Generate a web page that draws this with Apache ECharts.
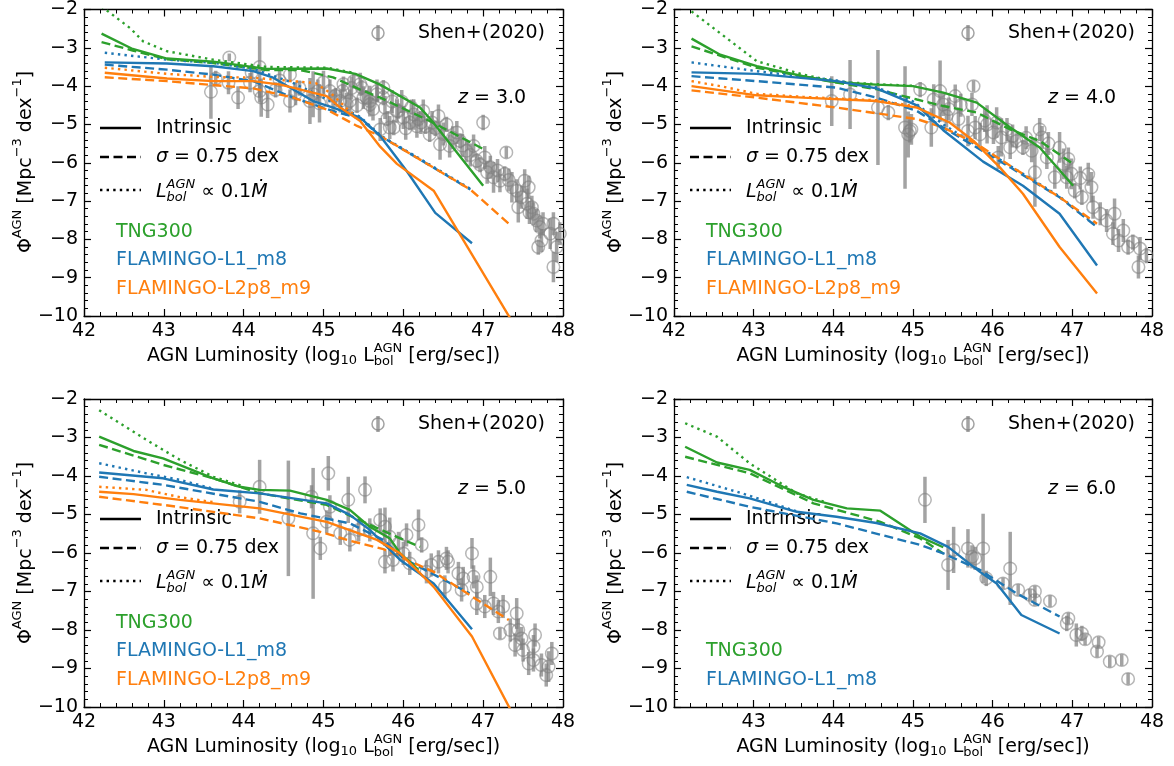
<!DOCTYPE html>
<html>
<head>
<meta charset="utf-8">
<script src="https://cdn.jsdelivr.net/npm/echarts@6/dist/echarts.min.js"></script>
<style>
  html, body { margin: 0; padding: 0; background: #fff; }
  #main { width: 1174px; height: 766px; }
</style>
</head>
<body>
<div id="main"></div>
<script>
// ---- model curves, [log L, log Phi] ----
// z = 3
const tng3_int = [[42.22,-2.63],[42.61,-3.03],[43.04,-3.28],[43.62,-3.36],[44.29,-3.55],[45.04,-3.54],[45.40,-3.68],[45.71,-3.96],[46.21,-4.56],[46.36,-4.91],[47.0,-6.6]];
const tng3_sig = [[42.22,-2.85],[42.61,-3.07],[43.04,-3.30],[43.62,-3.40],[44.29,-3.58],[44.71,-3.58],[45.12,-3.77],[45.46,-4.09],[45.71,-4.30],[46.33,-4.91],[47.0,-5.64]];
const tng3_dot = [[42.22,-1.92],[42.58,-2.49],[42.74,-2.83],[43.04,-3.09],[43.62,-3.31],[44.29,-3.50],[45.04,-3.52],[45.40,-3.66]];
const fl1_3_int = [[42.26,-3.38],[43.04,-3.41],[43.62,-3.48],[44.12,-3.61],[44.37,-3.78],[44.87,-4.39],[45.12,-4.56],[45.46,-4.82],[45.71,-5.30],[46.04,-6.21],[46.40,-7.31],[46.86,-8.10]];
const fl1_3_sig = [[42.26,-3.44],[43.04,-3.57],[43.62,-3.70],[44.12,-3.87],[44.62,-4.30],[45.12,-4.65],[45.46,-4.85],[45.71,-5.30],[46.84,-6.70]];
const fl1_3_dot = [[42.26,-3.13],[43.04,-3.31],[43.62,-3.39],[44.12,-3.55],[44.60,-3.90],[45.00,-4.30],[45.46,-4.80],[45.71,-5.28],[46.84,-6.68]];
const fl2_3_int = [[42.26,-3.65],[43.04,-3.80],[43.62,-3.87],[44.12,-3.87],[44.46,-3.96],[44.79,-4.13],[45.04,-4.26],[45.21,-4.56],[45.46,-4.91],[45.71,-5.58],[45.92,-6.03],[46.38,-6.73],[47.35,-10.1]];
const fl2_3_sig = [[42.26,-3.77],[43.04,-3.87],[44.12,-4.06],[44.62,-4.30],[45.04,-4.61],[45.42,-5.04],[45.71,-5.30],[46.84,-6.70],[47.32,-7.59]];
const fl2_3_dot = [[42.26,-3.52],[43.04,-3.68],[43.62,-3.76],[44.12,-3.78],[44.90,-3.92],[45.10,-4.20],[45.30,-4.60],[45.46,-4.88]];
// z = 4
const tng4_int = [[42.22,-2.76],[42.58,-3.18],[43.04,-3.48],[43.62,-3.74],[44.04,-3.90],[44.54,-3.96],[45.0,-4.0],[45.38,-4.17],[45.80,-4.43],[46.22,-5.08],[46.59,-5.60],[47.01,-6.6]];
const tng4_sig = [[42.22,-2.96],[43.04,-3.52],[44.04,-3.91],[44.54,-4.08],[45.05,-4.35],[45.38,-4.52],[45.80,-4.69],[46.22,-5.13],[46.59,-5.43],[47.01,-6.03]];
const tng4_dot = [[42.22,-2.05],[42.58,-2.62],[43.04,-3.35],[43.62,-3.70],[44.04,-3.88],[44.54,-3.95],[45.0,-3.99]];
const fl1_4_int = [[42.22,-3.64],[43.04,-3.68],[44.04,-3.87],[44.54,-4.06],[45.05,-4.50],[45.38,-5.15],[45.88,-5.97],[46.38,-6.60],[46.84,-7.33],[47.31,-8.68]];
const fl1_4_sig = [[42.22,-3.74],[43.04,-3.87],[44.04,-4.04],[44.54,-4.30],[45.05,-4.65],[45.38,-5.08],[45.80,-5.60],[46.22,-6.12],[46.84,-6.90],[47.31,-7.68]];
const fl1_4_dot = [[42.22,-3.38],[43.04,-3.61],[44.04,-3.85],[44.54,-4.03],[45.0,-4.40],[45.38,-5.0],[45.80,-5.55],[46.22,-6.08],[46.84,-6.88],[47.31,-7.66]];
const fl2_4_int = [[42.22,-4.0],[43.04,-4.24],[43.62,-4.30],[44.54,-4.39],[45.05,-4.56],[45.46,-4.95],[45.76,-5.43],[46.09,-6.12],[46.38,-6.81],[46.84,-8.2],[47.31,-9.41]];
const fl2_4_sig = [[42.22,-4.11],[43.04,-4.30],[44.04,-4.56],[45.05,-4.86],[45.38,-5.08],[45.80,-5.51],[46.22,-6.08],[46.84,-6.90],[47.31,-7.59]];
const fl2_4_dot = [[42.22,-3.87],[42.58,-4.0],[43.04,-4.20],[43.62,-4.28],[44.54,-4.37],[45.05,-4.53]];
// z = 5
const tng5_int = [[42.19,-2.98],[42.62,-3.35],[42.99,-3.54],[43.62,-4.06],[43.95,-4.28],[44.20,-4.36],[44.58,-4.38],[45.04,-4.62],[45.33,-4.88],[45.58,-5.32],[45.83,-5.62],[45.96,-6.01],[46.19,-6.44]];
const tng5_sig = [[42.19,-3.19],[42.99,-3.71],[43.62,-4.06],[44.20,-4.45],[45.04,-4.75],[45.54,-5.23],[45.96,-5.62],[46.21,-5.84]];
const tng5_dot = [[42.19,-2.29],[42.78,-3.06],[43.20,-3.58],[43.62,-4.02],[44.0,-4.27]];
const fl1_5_int = [[42.19,-3.91],[42.99,-4.06],[43.62,-4.35],[44.20,-4.45],[45.04,-4.71],[45.33,-5.01],[45.58,-5.40],[45.96,-6.18],[46.38,-6.79],[46.86,-7.98]];
const fl1_5_sig = [[42.19,-4.02],[42.99,-4.23],[44.20,-4.67],[44.71,-4.97],[45.33,-5.23],[45.75,-5.66],[46.0,-6.14],[46.83,-7.05]];
const fl1_5_dot = [[42.19,-3.67],[42.78,-3.93],[43.20,-4.10],[43.62,-4.33]];
const fl2_5_int = [[42.19,-4.41],[42.62,-4.47],[43.20,-4.62],[44.20,-4.84],[45.04,-5.19],[45.67,-5.66],[45.96,-6.01],[46.38,-6.88],[46.86,-8.17],[47.35,-10.1]];
const fl2_5_sig = [[42.19,-4.54],[42.99,-4.75],[44.20,-5.10],[44.96,-5.45],[45.33,-5.68],[45.75,-5.90],[46.38,-6.49],[47.32,-7.74]];
const fl2_5_dot = [[42.19,-4.28],[42.78,-4.36],[43.20,-4.55],[43.62,-4.68]];
// z = 6
const tng6_int = [[42.14,-3.24],[42.54,-3.65],[42.95,-3.84],[43.37,-4.28],[43.75,-4.62],[44.17,-4.84],[44.59,-4.90],[45.09,-5.58],[45.38,-5.85]];
const tng6_sig = [[42.14,-3.50],[42.95,-3.93],[43.75,-4.71],[44.59,-5.19],[45.09,-5.62],[45.38,-6.01]];
const tng6_dot = [[42.14,-2.63],[42.54,-2.98],[42.95,-3.67],[43.54,-4.45],[43.90,-4.68]];
const fl1_6_int = [[42.16,-4.23],[42.54,-4.41],[42.95,-4.58],[43.54,-4.93],[44.04,-5.06],[44.54,-5.22],[45.09,-5.49],[45.44,-5.84],[45.84,-6.49],[46.05,-6.79],[46.36,-7.61],[46.84,-8.09]];
const fl1_6_sig = [[42.16,-4.41],[42.95,-4.80],[44.04,-5.23],[45.09,-5.79],[45.38,-6.01],[45.84,-6.44],[46.30,-7.05],[46.84,-7.65]];
const fl1_6_dot = [[42.16,-4.03],[42.79,-4.41],[43.20,-4.68],[43.54,-4.92]];

// ---- Shen+(2020) points, [log L, log Phi, error] ----
const shen_z3 = [[43.59,-4.15,0.7],[43.65,-3.80,0.2],[43.82,-3.25,0.1],[43.81,-3.91,0.3],[43.93,-4.30,0.3],[44.08,-3.91,0.25],[44.20,-3.50,0.8],[44.22,-4.30,0.5],[44.30,-4.48,0.35],[44.20,-4.13,0.3],[44.10,-3.65,0.2],[44.40,-4.10,0.2],[44.45,-3.85,0.3],[44.58,-3.70,0.2],[44.58,-4.39,0.3],[44.65,-4.20,0.3],[44.70,-4.05,0.2],[44.87,-4.21,0.6],[44.93,-4.13,0.3],[44.95,-4.45,0.5],[45.00,-3.90,0.3],[44.83,-4.39,0.6],[45.12,-4.39,0.3],[45.08,-4.13,0.3],[45.15,-4.25,0.2],[45.21,-4.39,0.3],[45.24,-4.13,0.2],[45.29,-4.47,0.3],[45.25,-3.95,0.2],[45.35,-4.05,0.3],[45.38,-3.87,0.2],[45.33,-4.39,0.3],[45.42,-4.50,0.2],[45.46,-3.95,0.3],[45.48,-4.04,0.2],[45.50,-4.30,0.3],[45.54,-4.30,0.2],[45.58,-4.39,0.4],[45.58,-4.48,0.2],[45.62,-4.60,0.3],[45.67,-4.13,0.3],[45.67,-4.21,0.2],[45.71,-5.13,0.3],[45.75,-4.04,0.2],[45.75,-4.30,0.2],[45.77,-4.56,0.3],[45.80,-4.85,0.2],[45.83,-5.08,0.3],[45.86,-4.40,0.3],[45.88,-5.08,0.2],[45.92,-4.65,0.3],[45.94,-4.65,0.2],[45.98,-4.40,0.3],[46.0,-4.82,0.3],[46.03,-5.10,0.3],[46.08,-4.95,0.2],[46.10,-4.55,0.2],[46.13,-4.74,0.4],[46.17,-5.05,0.3],[46.19,-4.86,0.2],[46.22,-4.95,0.3],[46.25,-4.65,0.3],[46.28,-5.05,0.2],[46.33,-5.26,0.2],[46.36,-4.95,0.3],[46.40,-5.10,0.2],[46.44,-4.78,0.3],[46.46,-5.52,0.4],[46.50,-5.25,0.3],[46.54,-5.0,0.2],[46.58,-5.56,0.3],[46.62,-5.35,0.3],[46.67,-5.21,0.3],[46.71,-5.43,0.2],[46.74,-5.55,0.3],[46.79,-5.69,0.3],[46.84,-5.80,0.3],[46.88,-5.56,0.3],[46.92,-5.95,0.2],[46.96,-6.05,0.2],[47.0,-4.95,0.2],[47.02,-5.86,0.3],[47.05,-6.25,0.3],[47.09,-6.12,0.3],[47.13,-6.38,0.4],[47.18,-6.20,0.3],[47.21,-6.47,0.3],[47.27,-6.29,0.2],[47.29,-5.73,0.15],[47.32,-6.45,0.3],[47.36,-6.64,0.4],[47.42,-6.73,0.3],[47.44,-7.16,0.4],[47.48,-6.90,0.3],[47.52,-6.47,0.3],[47.57,-6.64,0.3],[47.55,-7.07,0.4],[47.58,-7.30,0.3],[47.61,-7.16,0.3],[47.63,-7.33,0.3],[47.67,-7.51,0.3],[47.71,-7.68,0.3],[47.75,-7.59,0.3],[47.73,-8.03,0.3],[47.69,-8.20,0.2],[47.84,-7.85,0.4],[47.88,-7.59,0.3],[47.92,-8.20,0.4],[47.88,-8.72,0.4],[47.96,-7.85,0.3]];
const shen_z4 = [[43.98,-4.39,0.65],[44.21,-4.22,0.9],[44.56,-4.56,1.5],[44.69,-4.69,0.2],[44.90,-5.08,1.6],[44.94,-5.26,0.6],[44.98,-5.13,0.4],[44.96,-5.17,0.3],[45.09,-4.09,0.2],[45.23,-5.08,0.5],[45.26,-4.35,0.4],[45.34,-4.13,0.8],[45.38,-4.48,0.3],[45.42,-4.78,0.3],[45.45,-4.60,0.3],[45.53,-4.26,0.3],[45.57,-4.86,0.3],[45.60,-4.50,0.3],[45.69,-5.17,0.4],[45.76,-4.0,0.15],[45.74,-4.48,0.3],[45.78,-5.08,0.3],[45.84,-5.26,0.3],[45.90,-4.90,0.3],[45.93,-5.0,0.5],[46.01,-5.21,0.3],[46.05,-4.95,0.4],[46.07,-5.86,0.3],[46.11,-5.34,0.5],[46.18,-5.13,0.3],[46.22,-5.60,0.3],[46.25,-5.30,0.3],[46.30,-5.43,0.2],[46.38,-5.60,0.2],[46.42,-5.35,0.3],[46.49,-5.69,0.3],[46.53,-6.25,0.9],[46.59,-5.13,0.3],[46.62,-5.34,0.3],[46.68,-5.86,0.3],[46.70,-5.50,0.3],[46.78,-6.38,0.3],[46.84,-5.60,0.4],[46.89,-6.03,0.4],[46.93,-6.38,0.3],[46.95,-5.90,0.3],[46.99,-6.29,0.4],[47.03,-6.73,0.2],[47.10,-6.40,0.3],[47.12,-6.90,0.2],[47.20,-6.30,0.3],[47.24,-6.64,0.4],[47.26,-7.16,0.3],[47.35,-7.33,0.3],[47.43,-7.51,0.3],[47.53,-7.33,0.4],[47.51,-7.85,0.3],[47.58,-8.03,0.3],[47.64,-7.77,0.3],[47.70,-8.20,0.2],[47.76,-8.07,0.2],[47.83,-8.72,0.3],[47.85,-8.24,0.3],[47.93,-8.42,0.2]];
const shen_z5 = [[43.95,-4.67,0.3],[44.20,-4.28,0.7],[44.56,-5.10,1.5],[44.85,-4.54,0.3],[44.87,-5.49,1.7],[44.96,-5.88,0.3],[45.06,-3.93,0.45],[45.04,-5.19,0.3],[45.08,-4.80,0.3],[45.21,-5.49,0.3],[45.31,-4.62,0.6],[45.33,-5.66,0.3],[45.44,-5.40,0.3],[45.52,-4.36,0.35],[45.58,-5.40,0.3],[45.71,-5.14,0.3],[45.77,-5.32,0.5],[45.77,-6.23,0.3],[45.83,-5.58,0.5],[45.87,-6.18,0.3],[45.94,-5.75,0.3],[46.0,-6.01,0.3],[46.04,-5.53,0.3],[46.08,-6.27,0.3],[46.19,-5.27,0.4],[46.23,-5.79,0.2],[46.29,-6.49,0.3],[46.35,-6.31,0.3],[46.44,-6.23,0.3],[46.54,-6.14,0.3],[46.56,-6.23,0.3],[46.52,-6.88,0.3],[46.69,-6.53,0.3],[46.75,-6.66,0.3],[46.73,-6.96,0.3],[46.86,-6.01,0.4],[46.88,-6.62,0.3],[46.92,-6.88,0.3],[46.92,-7.31,0.3],[47.02,-7.39,0.3],[47.09,-6.62,0.5],[47.13,-7.31,0.3],[47.19,-7.52,0.3],[47.21,-8.09,0.15],[47.25,-7.39,0.3],[47.34,-8.0,0.3],[47.40,-8.39,0.3],[47.42,-7.57,0.4],[47.44,-8.0,0.3],[47.48,-8.22,0.3],[47.50,-8.52,0.3],[47.57,-8.87,0.3],[47.63,-8.43,0.3],[47.65,-8.13,0.3],[47.63,-8.78,0.3],[47.73,-8.91,0.3],[47.79,-9.17,0.3],[47.82,-8.95,0.4],[47.86,-8.61,0.3]];
const shen_z6 = [[45.15,-4.62,0.6],[45.44,-6.31,0.65],[45.51,-5.92,0.6],[45.69,-5.88,0.5],[45.74,-6.10,0.3],[45.78,-6.14,0.3],[45.88,-5.88,0.9],[45.92,-6.66,0.2],[46.13,-6.79,0.15],[46.22,-6.40,0.95],[46.32,-6.96,0.15],[46.47,-7.09,0.15],[46.53,-7.0,0.15],[46.53,-7.22,0.15],[46.72,-7.25,0.15],[46.93,-7.83,0.2],[46.95,-7.70,0.15],[47.05,-8.13,0.3],[47.12,-8.09,0.2],[47.16,-8.24,0.15],[47.31,-8.56,0.15],[47.33,-8.32,0.15],[47.47,-8.82,0.15],[47.62,-8.78,0.15],[47.70,-9.27,0.15]];

const redshifts = ['3.0', '4.0', '5.0', '6.0'];
const simNames = ['TNG300', 'FLAMINGO-L1_m8', 'FLAMINGO-L2p8_m9'];
const simColors = ['#2ca02c', '#1f77b4', '#ff7f0e'];

const panels = [
    { sims: [[tng3_int, tng3_sig, tng3_dot], [fl1_3_int, fl1_3_sig, fl1_3_dot], [fl2_3_int, fl2_3_sig, fl2_3_dot]], shen: shen_z3 },
    { sims: [[tng4_int, tng4_sig, tng4_dot], [fl1_4_int, fl1_4_sig, fl1_4_dot], [fl2_4_int, fl2_4_sig, fl2_4_dot]], shen: shen_z4 },
    { sims: [[tng5_int, tng5_sig, tng5_dot], [fl1_5_int, fl1_5_sig, fl1_5_dot], [fl2_5_int, fl2_5_sig, fl2_5_dot]], shen: shen_z5 },
    { sims: [[tng6_int, tng6_sig, tng6_dot], [fl1_6_int, fl1_6_sig, fl1_6_dot]], shen: shen_z6 }
];

// grid boxes: left, top, width
const boxes = [[84, 8, 479], [674, 8, 478], [84, 399, 479], [674, 399, 478]];
const BOX_H = 308;

const FONT = '"DejaVu Sans", sans-serif';
const GRAY = 'rgba(128,128,128,0.72)';
const DASH = [9, 4.5];
const DOT = [2.4, 4.2];
const LW = 2.4;

const mctx = document.createElement('canvas').getContext('2d');
function textWidth(t, size, it) {
    mctx.font = (it ? 'italic ' : '') + size + 'px "DejaVu Sans"';
    return mctx.measureText(t).width;
}
function txt(t, x, y, s, it, color) {
    return {
        type: 'text', x: x, y: y,
        style: {
            text: t, fill: color, font: (it ? 'italic ' : '') + s + 'px ' + FONT,
            textAlign: 'left', textVerticalAlign: 'middle', align: 'left', verticalAlign: 'middle'
        }
    };
}
// pieces: {t, s, dy, it} or stacked {sup, sub, s, it}
function mathText(pieces, x, y, opt) {
    opt = opt || {};
    const color = opt.color || '#000';
    const children = [];
    let cx = 0;
    pieces.forEach(function (p) {
        const s = p.s || 19;
        if (p.sup !== undefined) {
            children.push(txt(p.sup, cx, -7, s, p.it, color));
            children.push(txt(p.sub, cx, 6, s, p.it, color));
            cx += Math.max(textWidth(p.sup, s, p.it), textWidth(p.sub, s, p.it));
        } else {
            children.push(txt(p.t, cx, p.dy || 0, s, p.it, color));
            cx += textWidth(p.t, s, p.it);
        }
    });
    if (opt.align === 'center') {
        children.forEach(function (c) { c.x -= cx / 2; });
    }
    return { type: 'group', x: x, y: y, rotation: opt.rotation || 0, children: children };
}

const grids = [], xAxes = [], yAxes = [], series = [], graphics = [];

function minus(v) { return String(v).replace('-', '\u2212'); }

boxes.forEach(function (b, i) {
    grids.push({ left: b[0], top: b[1], width: b[2], height: BOX_H });
    const tickCommon = {
        axisLine: { onZero: false, lineStyle: { color: '#000', width: 1.3 } },
        axisTick: { inside: true, length: 7, lineStyle: { color: '#000', width: 1.2 } },
        minorTick: { show: true, splitNumber: 5, length: 4, lineStyle: { color: '#000', width: 1 } },
        splitLine: { show: false },
        minorSplitLine: { show: false }
    };
    xAxes.push(Object.assign({
        gridIndex: i, type: 'value', position: 'bottom', min: 42, max: 48, interval: 1,
        axisLabel: {
            margin: 6, fontSize: 19, color: '#000', fontFamily: FONT,
            formatter: function (v) { return (i === 3 && v === 42) ? '' : minus(v); }
        }
    }, tickCommon));
    xAxes.push(Object.assign({
        gridIndex: i, type: 'value', position: 'top', min: 42, max: 48, interval: 1,
        axisLabel: { show: false }
    }, tickCommon));
    yAxes.push(Object.assign({
        gridIndex: i, type: 'value', position: 'left', min: -10, max: -2, interval: 1,
        axisLabel: { margin: 6, fontSize: 19, color: '#000', fontFamily: FONT, formatter: minus }
    }, tickCommon));
    yAxes.push(Object.assign({
        gridIndex: i, type: 'value', position: 'right', min: -10, max: -2, interval: 1,
        axisLabel: { show: false }
    }, tickCommon));

    const p = panels[i];
    const xi = i * 2, yi = i * 2;

    // Shen+(2020) error bars and circles
    series.push({
        type: 'custom', xAxisIndex: xi, yAxisIndex: yi, clip: true, z: 2,
        data: p.shen, encode: { x: 0, y: 1 },
        renderItem: function (params, api) {
            const a = api.coord([api.value(0), api.value(1) + api.value(2)]);
            const c = api.coord([api.value(0), api.value(1) - api.value(2)]);
            return {
                type: 'line',
                shape: { x1: a[0], y1: a[1], x2: c[0], y2: c[1] },
                style: { stroke: GRAY, lineWidth: 3.5 }
            };
        }
    });
    series.push({
        type: 'scatter', xAxisIndex: xi, yAxisIndex: yi, z: 3,
        symbol: 'circle', symbolSize: 12.5,
        itemStyle: { color: 'rgba(0,0,0,0)', borderColor: GRAY, borderWidth: 1.5 },
        data: p.shen.map(function (d) { return [d[0], d[1]]; })
    });

    // model curves
    const styles = [['solid', 5], [DASH, 4], [DOT, 4]];
    p.sims.forEach(function (sim, k) {
        sim.forEach(function (curve, s) {
            series.push({
                type: 'line', xAxisIndex: xi, yAxisIndex: yi, z: styles[s][1],
                showSymbol: false, symbol: 'none', clip: true,
                lineStyle: { color: simColors[k], width: LW, type: styles[s][0] },
                data: curve
            });
        });
    });

    // in-panel annotations
    const ox = b[0], oy = b[1];
    graphics.push({ type: 'line', shape: { x1: ox + 294, y1: oy + 17, x2: ox + 294, y2: oy + 33 }, style: { stroke: GRAY, lineWidth: 3.5 } });
    graphics.push({ type: 'circle', shape: { cx: ox + 294, cy: oy + 25, r: 6 }, style: { fill: 'none', stroke: GRAY, lineWidth: 1.5 } });
    graphics.push(mathText([{ t: 'Shen+(2020)' }], ox + 334, oy + 25));
    graphics.push(mathText([{ t: 'z', it: true }, { t: ' = ' + redshifts[i] }], ox + 374, oy + 90));

    graphics.push({ type: 'line', shape: { x1: ox + 16, y1: oy + 120, x2: ox + 57, y2: oy + 120 }, style: { stroke: '#000', lineWidth: LW } });
    graphics.push({ type: 'line', shape: { x1: ox + 16, y1: oy + 149, x2: ox + 57, y2: oy + 149 }, style: { stroke: '#000', lineWidth: LW, lineDash: DASH } });
    graphics.push({ type: 'line', shape: { x1: ox + 16, y1: oy + 182, x2: ox + 57, y2: oy + 182 }, style: { stroke: '#000', lineWidth: LW, lineDash: DOT } });
    graphics.push(mathText([{ t: 'Intrinsic' }], ox + 72, oy + 120));
    graphics.push(mathText([{ t: '\u03c3', it: true }, { t: ' = 0.75 dex' }], ox + 72, oy + 149));
    graphics.push(mathText([{ t: 'L', it: true }, { sup: 'AGN', sub: 'bol', s: 13, it: true }, { t: ' \u221d 0.1' }, { t: '\u1e40', it: true }], ox + 72, oy + 184));

    const nSim = p.sims.length;
    for (let k = 0; k < nSim; k++) {
        const row = 3 - nSim + k;
        graphics.push(mathText([{ t: simNames[k] }], ox + 32, oy + 224 + row * 28.5, { color: simColors[k] }));
    }

    // axis titles
    graphics.push(mathText([
        { t: 'AGN Luminosity (log' }, { t: '10', s: 13, dy: 5 }, { t: ' L' },
        { sup: 'AGN', sub: 'bol', s: 13 }, { t: ' [erg/sec])' }
    ], ox + b[2] / 2, oy + BOX_H + 40, { align: 'center' }));
    graphics.push(mathText([
        { t: '\u03a6' }, { t: 'AGN', s: 13, dy: -8 }, { t: ' [Mpc' }, { t: '\u22123', s: 13, dy: -8 },
        { t: ' dex' }, { t: '\u22121', s: 13, dy: -8 }, { t: ']' }
    ], ox - 58, oy + BOX_H / 2, { align: 'center', rotation: Math.PI / 2 }));
});

const chart = echarts.init(document.getElementById('main'));
chart.setOption({
    animation: false,
    backgroundColor: '#fff',
    grid: grids,
    xAxis: xAxes,
    yAxis: yAxes,
    series: series,
    graphic: graphics
});
</script>
</body>
</html>
